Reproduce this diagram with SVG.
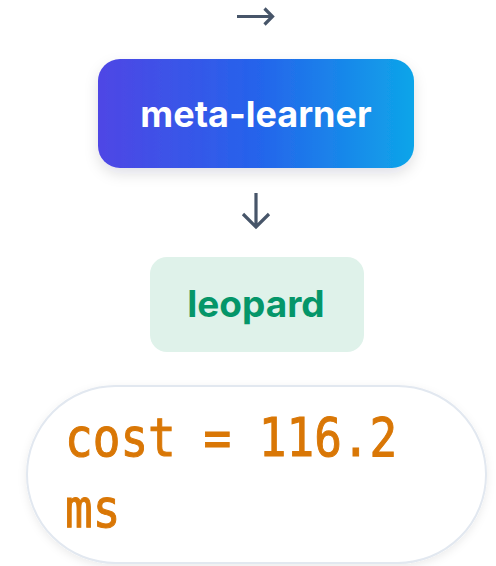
<svg xmlns="http://www.w3.org/2000/svg" width="496" height="566" viewBox="0 0 496 566">
<style>
.conn{fill:none;stroke:#475569;stroke-width:3.2;stroke-linecap:butt;stroke-linejoin:miter}
.lbl{font-family:Inter,"Liberation Sans",sans-serif;font-weight:700;font-size:36px;text-anchor:middle}
.mono{font-family:"DejaVu Sans Mono","Liberation Mono",monospace;font-size:46px;fill:#D97706;stroke:#D97706;stroke-width:0.9}
</style>
<defs>
<linearGradient id="g1" x1="0" y1="0" x2="1" y2="0">
<stop offset="0" stop-color="#4F46E5"/>
<stop offset="0.5" stop-color="#2563EB"/>
<stop offset="1" stop-color="#0EA5E9"/>
</linearGradient>
<filter id="sh" x="-20%" y="-20%" width="140%" height="160%">
<feDropShadow dx="0" dy="6" stdDeviation="7" flood-color="#0f172a" flood-opacity="0.12"/>
</filter>
<filter id="sh2" x="-10%" y="-10%" width="120%" height="130%">
<feDropShadow dx="0" dy="3" stdDeviation="4" flood-color="#0f172a" flood-opacity="0.08"/>
</filter>
</defs>
<g id="connectors">
<path class="conn" d="M237 16.5H272M264.5 8.5L272.5 16.5L264.5 24.5"/>
<path class="conn" d="M256 193V226M243 214L256 227L269 214"/>
</g>
<g id="meta-learner">
<rect x="98" y="59" width="316" height="109" rx="22" fill="url(#g1)" filter="url(#sh)"/>
<text class="lbl" x="256" y="127" fill="#FFFFFF">meta-learner</text>
</g>
<g id="leopard">
<rect x="150" y="257" width="214" height="95" rx="17" fill="#DFF2EA"/>
<text class="lbl" x="256" y="317" fill="#059669" style="font-size:37px">leopard</text>
</g>
<g id="cost">
<rect x="27" y="386" width="459" height="177" rx="88.5" fill="#FFFFFF" stroke="#E2E8F0" stroke-width="2" filter="url(#sh2)"/>
<text class="mono" transform="translate(65,456) scale(1,1.15)">cost = 116.2</text>
<text class="mono" transform="translate(65,527) scale(1,1.15)">ms</text>
</g>
</svg>
